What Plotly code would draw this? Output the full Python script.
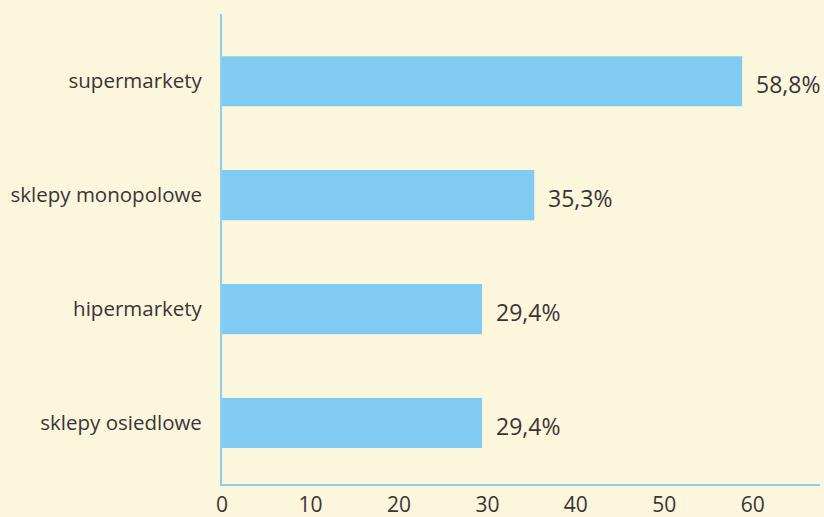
import plotly.graph_objects as go

categories = ["sklepy osiedlowe", "hipermarkety", "sklepy monopolowe", "supermarkety"]
values = [29.4, 29.4, 35.3, 58.8]
value_labels = ["29,4%", "29,4%", "35,3%", "58,8%"]
x_ticks = [0, 10, 20, 30, 40, 50, 60]

bg = "#FCF6DC"
bar_color = "#80CBF2"
line_color = "#8CCFF0"
text_color = "#3A3437"
font_family = "Open Sans, Noto Sans, sans-serif"

fig = go.Figure()
fig.add_trace(go.Bar(
    y=categories, x=values, orientation="h",
    marker=dict(color=bar_color, line=dict(width=0)),
    width=0.44, hoverinfo="skip",
))

for c, v, t in zip(categories, values, value_labels):
    fig.add_annotation(x=v, y=c, text=t, showarrow=False, xanchor="left",
                       xshift=12, yshift=-3,
                       font=dict(size=23, color=text_color, family=font_family))

fig.update_layout(
    width=824, height=517,
    margin=dict(l=222, r=4, t=14, b=33, autoexpand=False),
    paper_bgcolor=bg, plot_bgcolor=bg,
    showlegend=False,
    font=dict(family=font_family, color=text_color),
)
fig.update_xaxes(
    range=[0, 67.6], tickvals=x_ticks, ticktext=[str(v) for v in x_ticks],
    showgrid=False, zeroline=False, showline=True, linecolor=line_color, linewidth=2,
    ticks="", ticklabelstandoff=1, tickfont=dict(size=21, color=text_color),
    automargin=False,
)
fig.update_yaxes(
    range=[-0.535, 3.59], showgrid=False, zeroline=False, showline=True,
    linecolor=line_color, linewidth=2, ticks="", ticklabelstandoff=14,
    tickfont=dict(size=20.5, color=text_color), automargin=False,
)
fig.write_html("out.html")
